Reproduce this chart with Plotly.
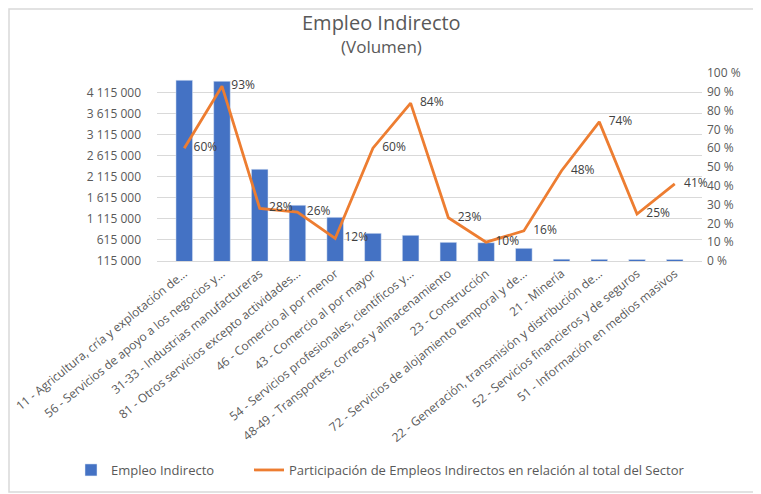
import plotly.graph_objects as go

# datos
categorias = [
    "11 - Agricultura, cría y explotación de...",
    "56 - Servicios de apoyo a los negocios y...",
    "31-33 - Industrias manufactureras",
    "81 - Otros servicios excepto actividades...",
    "46 - Comercio al por menor",
    "43 - Comercio al por mayor",
    "54 - Servicios profesionales, científicos y...",
    "48-49 - Transportes, correos y almacenamiento",
    "23 - Construcción",
    "72 - Servicios de alojamiento temporal y de...",
    "21 - Minería",
    "22 - Generación, transmisión y distribución de...",
    "52 - Servicios financieros y de seguros",
    "51 - Información en medios masivos",
]
empleo_indirecto = [4417000, 4393000, 2298000, 1441000, 1155000, 774000, 727000,
                    560000, 550000, 417000, 158000, 155000, 152000, 152000]
participacion = [0.60, 0.93, 0.28, 0.26, 0.12, 0.60, 0.84,
                 0.23, 0.10, 0.16, 0.48, 0.74, 0.25, 0.41]

ticks_izq = [115000, 615000, 1115000, 1615000, 2115000, 2615000, 3115000, 3615000, 4115000]
ticks_der = [0, 0.1, 0.2, 0.3, 0.4, 0.5, 0.6, 0.7, 0.8, 0.9, 1.0]

AZUL = "#4472C4"
NARANJA = "#ED7D31"
GRIS = "#595959"
FUENTE = "Open Sans"

fig = go.Figure()
fig.add_trace(go.Bar(
    x=categorias, y=empleo_indirecto, name="Empleo Indirecto",
    marker_color=AZUL, yaxis="y", legend="legend",
))
fig.add_trace(go.Scatter(
    x=categorias, y=participacion, yaxis="y2", mode="lines+text",
    name="Participación de Empleos Indirectos en relación al total del Sector",
    line=dict(color=NARANJA, width=2.8),
    # espacios duros para separar la etiqueta del punto, como en Excel
    text=["\u00a0\u00a0\u00a0" + f"{round(v * 100)}%" for v in participacion],
    textposition="middle right",
    textfont=dict(family=FUENTE, size=12, color="#404040"),
    cliponaxis=False, legend="legend2",
))

# la página tiene 8 px de margen en el body -> figura de 753x486
W, H = 753, 486
OFF = 8
# área de trazado en la ventana: x 157..702, y 73..261
L, T = 157 - OFF, 73 - OFF
R = W - (702 - OFF)
B = H - (261 - OFF)
pw, ph = W - L - R, H - T - B


def px_x(x):
    return (x - OFF - L) / pw


def px_y(y):
    return 1 - (y - OFF - T) / ph


# dos leyendas separadas para que no se partan en dos líneas
leyenda = dict(orientation="h", xref="container", yref="container",
               xanchor="left", y=1 - (470 - OFF) / H, yanchor="middle",
               font=dict(size=13, color=GRIS), itemwidth=30)

fig.update_layout(
    width=W, height=H,
    margin=dict(l=L, r=R, t=T, b=B, autoexpand=False),
    paper_bgcolor="white", plot_bgcolor="white",
    font=dict(family=FUENTE, size=11, color=GRIS),
    bargap=0.56,
    showlegend=True,
    legend=dict(leyenda, x=(71 - OFF) / W),
    legend2=dict(leyenda, x=(249 - OFF) / W),
    xaxis=dict(
        tickangle=-39, showgrid=False, showline=True, linecolor="#d9d9d9",
        ticks="", tickfont=dict(size=12, color=GRIS), automargin=False,
    ),
    yaxis=dict(
        range=[115000, 4590000], tickvals=ticks_izq,
        ticktext=[f"{v:,}".replace(",", " ") for v in ticks_izq],
        showgrid=True, gridcolor="#d9d9d9", gridwidth=1, zeroline=False,
        ticks="", ticklabelstandoff=15, tickfont=dict(size=12, color=GRIS),
        automargin=False,
    ),
    yaxis2=dict(
        overlaying="y", side="right", range=[0, 1.0], tickvals=ticks_der,
        ticktext=[f"{round(v * 100)} %" for v in ticks_der],
        showgrid=False, zeroline=False, ticks="", ticklabelstandoff=4,
        tickfont=dict(size=12, color=GRIS), automargin=False,
    ),
    annotations=[
        dict(text="Empleo Indirecto", xref="paper", yref="paper",
             x=px_x(381), y=px_y(22), showarrow=False,
             font=dict(size=20, color=GRIS), xanchor="center", yanchor="middle"),
        dict(text="(Volumen)", xref="paper", yref="paper",
             x=px_x(381), y=px_y(46), showarrow=False,
             font=dict(size=17, color=GRIS), xanchor="center", yanchor="middle"),
    ],
    shapes=[
        dict(type="rect", xref="paper", yref="paper",
             x0=px_x(9), x1=px_x(759), y0=px_y(492), y1=px_y(9),
             line=dict(color="#d9d9d9", width=1.5), layer="below"),
    ],
)

fig.write_html("out.html")
